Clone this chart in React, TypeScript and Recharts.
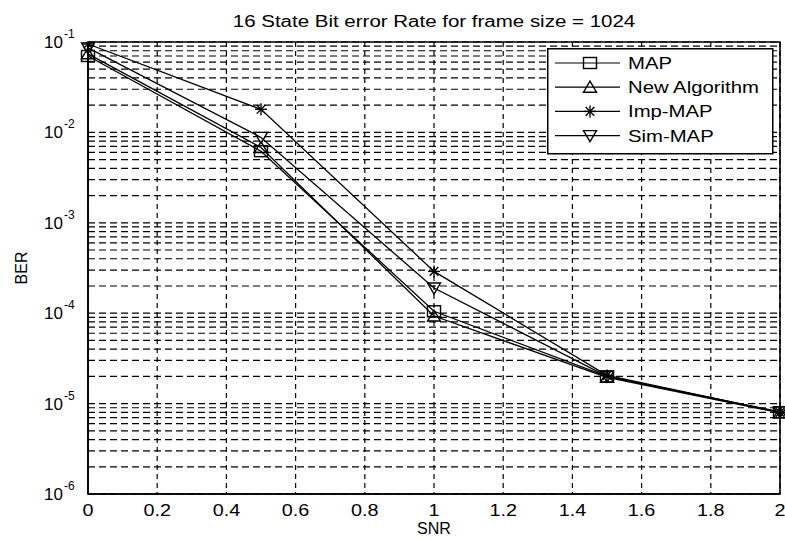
import React from 'react';
import { LineChart, Line, XAxis, YAxis, CartesianGrid, ReferenceArea, Legend, Label } from 'recharts';

const snr = [0, 0.5, 1, 1.5, 2];
const mapBer = [0.07, 0.0062, 1.05e-4, 2.0e-5, 8.0e-6];
const newAlgBer = [0.074, 0.0068, 9.3e-5, 1.95e-5, 7.9e-6];
const impMapBer = [0.095, 0.018, 2.9e-4, 2.05e-5, 8.0e-6];
const simMapBer = [0.086, 0.0088, 1.9e-4, 2.0e-5, 8.1e-6];

const xTicks = [0, 0.2, 0.4, 0.6, 0.8, 1, 1.2, 1.4, 1.6, 1.8, 2];
const xTickLabels = ['0', '0.2', '0.4', '0.6', '0.8', '1', '1.2', '1.4', '1.6', '1.8', '2'];
const decades = [1e-6, 1e-5, 1e-4, 1e-3, 1e-2];
const minorMultipliers = [1, 2, 3, 4, 5, 6, 7, 8, 9];
const topDecade = 1e-1;
const yTicks = [...decades.flatMap((d) => minorMultipliers.map((m) => m * d)), topDecade];

const title = '16 State Bit error Rate for frame size = 1024';
const xLabel = 'SNR';
const yLabel = 'BER';

const seriesInfo = [
  { key: 'MAP', name: 'MAP', shape: 'square', values: mapBer },
  { key: 'NEW', name: 'New Algorithm', shape: 'triangle', values: newAlgBer },
  { key: 'IMP', name: 'Imp-MAP', shape: 'star', values: impMapBer },
  { key: 'SIM', name: 'Sim-MAP', shape: 'itriangle', values: simMapBer },
];

const data = snr.map((s, i) => {
  const row: any = { snr: s };
  seriesInfo.forEach((si) => {
    row[si.key] = si.values[i];
  });
  return row;
});

const FONT = '"Liberation Sans", Arial, Helvetica, sans-serif';
const INK = '#000';

function marker(shape: string, cx: number, cy: number, key?: string) {
  const sw = 1.4;
  if (shape === 'square') {
    return <rect key={key} x={cx - 6.5} y={cy - 5.5} width={13} height={11} fill="none" stroke={INK} strokeWidth={sw} />;
  }
  if (shape === 'triangle') {
    return (
      <polygon key={key} points={`${cx},${cy - 6} ${cx + 6.5},${cy + 5} ${cx - 6.5},${cy + 5}`} fill="none" stroke={INK} strokeWidth={sw} />
    );
  }
  if (shape === 'itriangle') {
    return (
      <polygon key={key} points={`${cx - 6.5},${cy - 5} ${cx + 6.5},${cy - 5} ${cx},${cy + 6}`} fill="none" stroke={INK} strokeWidth={sw} />
    );
  }
  const r = 6;
  const d = 4.3;
  return (
    <g key={key} stroke={INK} strokeWidth={sw}>
      <line x1={cx - r} y1={cy} x2={cx + r} y2={cy} />
      <line x1={cx} y1={cy - r} x2={cx} y2={cy + r} />
      <line x1={cx - d} y1={cy - d} x2={cx + d} y2={cy + d} />
      <line x1={cx - d} y1={cy + d} x2={cx + d} y2={cy - d} />
    </g>
  );
}

const makeDot = (shape: string) => (p: any) => marker(shape, p.cx, p.cy, `${shape}-${p.index}`);

function YTick(props: any) {
  const { x, y, payload } = props;
  const v = payload.value as number;
  const lg = Math.log10(v);
  const e = Math.round(lg);
  if (Math.abs(lg - e) > 1e-6) return <g />;
  return (
    <g fontFamily={FONT} fill={INK}>
      <text x={x - 25} y={y + 6} textAnchor="end" fontSize={17}>10</text>
      <text x={x - 24} y={y - 4} textAnchor="start" fontSize={12}>{`-${Math.abs(e)}`}</text>
    </g>
  );
}

function XTick(props: any) {
  const { x, y, payload } = props;
  const idx = xTicks.findIndex((t) => Math.abs(t - payload.value) < 1e-9);
  const lbl = idx >= 0 ? xTickLabels[idx] : String(payload.value);
  return (
    <text transform={`translate(${x},${y + 22}) scale(1.2,1)`} textAnchor="middle" fontSize={16.5} fontFamily={FONT} fill={INK}>
      {lbl}
    </text>
  );
}

function XLabelContent(props: any) {
  const vb = props.viewBox || { x: 88, y: 494, width: 692 };
  return (
    <text x={vb.x + vb.width / 2} y={534} textAnchor="middle" fontSize={16} fontFamily={FONT} fill={INK}>
      {xLabel}
    </text>
  );
}

function YLabelContent(props: any) {
  const vb = props.viewBox || { x: 0, y: 42, height: 452 };
  const cy = vb.y + vb.height / 2;
  return (
    <text transform={`translate(27,${cy}) rotate(-90)`} textAnchor="middle" fontSize={16} fontFamily={FONT} fill={INK}>
      {yLabel}
    </text>
  );
}

function LegendBox() {
  return (
    <svg width={227} height={107} style={{ display: 'block' }}>
      <rect x={0.75} y={0.75} width={225} height={105} fill="#fff" stroke={INK} strokeWidth={1.5} />
      {seriesInfo.map((s, i) => {
        const y = 15 + i * 24.2;
        return (
          <g key={s.key}>
            <line x1={8} x2={73} y1={y} y2={y} stroke={INK} strokeWidth={1.2} />
            {marker(s.shape, 43, y)}
            <text transform={`translate(81,${y + 6}) scale(1.27,1)`} fontSize={16} fontFamily={FONT} fill={INK}>
              {s.name}
            </text>
          </g>
        );
      })}
    </svg>
  );
}

export default function App() {
  return (
    <div style={{ position: 'absolute', left: 0, top: 0, width: 785, height: 540, background: '#fff' }}>
      <div
        style={{
          position: 'absolute',
          left: 434,
          top: 12,
          transform: 'translateX(-50%) scaleX(1.28)',
          fontFamily: FONT,
          fontSize: 16,
          lineHeight: '20px',
          whiteSpace: 'nowrap',
          color: INK,
          zIndex: 2,
        }}
      >
        {title}
      </div>
      <LineChart width={785} height={540} data={data} margin={{ top: 42, right: 5, bottom: 0, left: 0 }}>
        <CartesianGrid horizontal={true} vertical={false} stroke={INK} strokeWidth={1.2} strokeDasharray="7 4" />
        <CartesianGrid horizontal={false} vertical={true} stroke={INK} strokeWidth={1.2} strokeDasharray="5 4" />
        <XAxis
          dataKey="snr"
          type="number"
          domain={[0, 2]}
          ticks={xTicks}
          interval={0}
          tick={<XTick />}
          tickLine={false}
          tickSize={0}
          tickMargin={0}
          height={46}
          axisLine={{ stroke: INK, strokeWidth: 1.6 }}
        >
          <Label content={<XLabelContent />} />
        </XAxis>
        <YAxis
          type="number"
          scale="log"
          domain={[1e-6, 1e-1]}
          allowDataOverflow
          ticks={yTicks}
          interval={0}
          tick={<YTick />}
          tickLine={false}
          tickSize={0}
          tickMargin={0}
          width={88}
          axisLine={{ stroke: INK, strokeWidth: 1.6 }}
        >
          <Label content={<YLabelContent />} />
        </YAxis>
        <ReferenceArea x1={0} x2={2} y1={1e-6} y2={1e-1} fill="none" stroke={INK} strokeWidth={1.6} />
        {seriesInfo.map((s) => (
          <Line
            key={s.key}
            dataKey={s.key}
            name={s.name}
            type="linear"
            stroke={INK}
            strokeWidth={1.3}
            dot={makeDot(s.shape)}
            activeDot={false}
            isAnimationActive={false}
          />
        ))}
        <Legend
          layout="horizontal"
          verticalAlign="middle"
          align="center"
          content={<LegendBox />}
          wrapperStyle={{ position: 'absolute', left: 547, top: 48, width: 227, height: 107 }}
        />
      </LineChart>
    </div>
  );
}
